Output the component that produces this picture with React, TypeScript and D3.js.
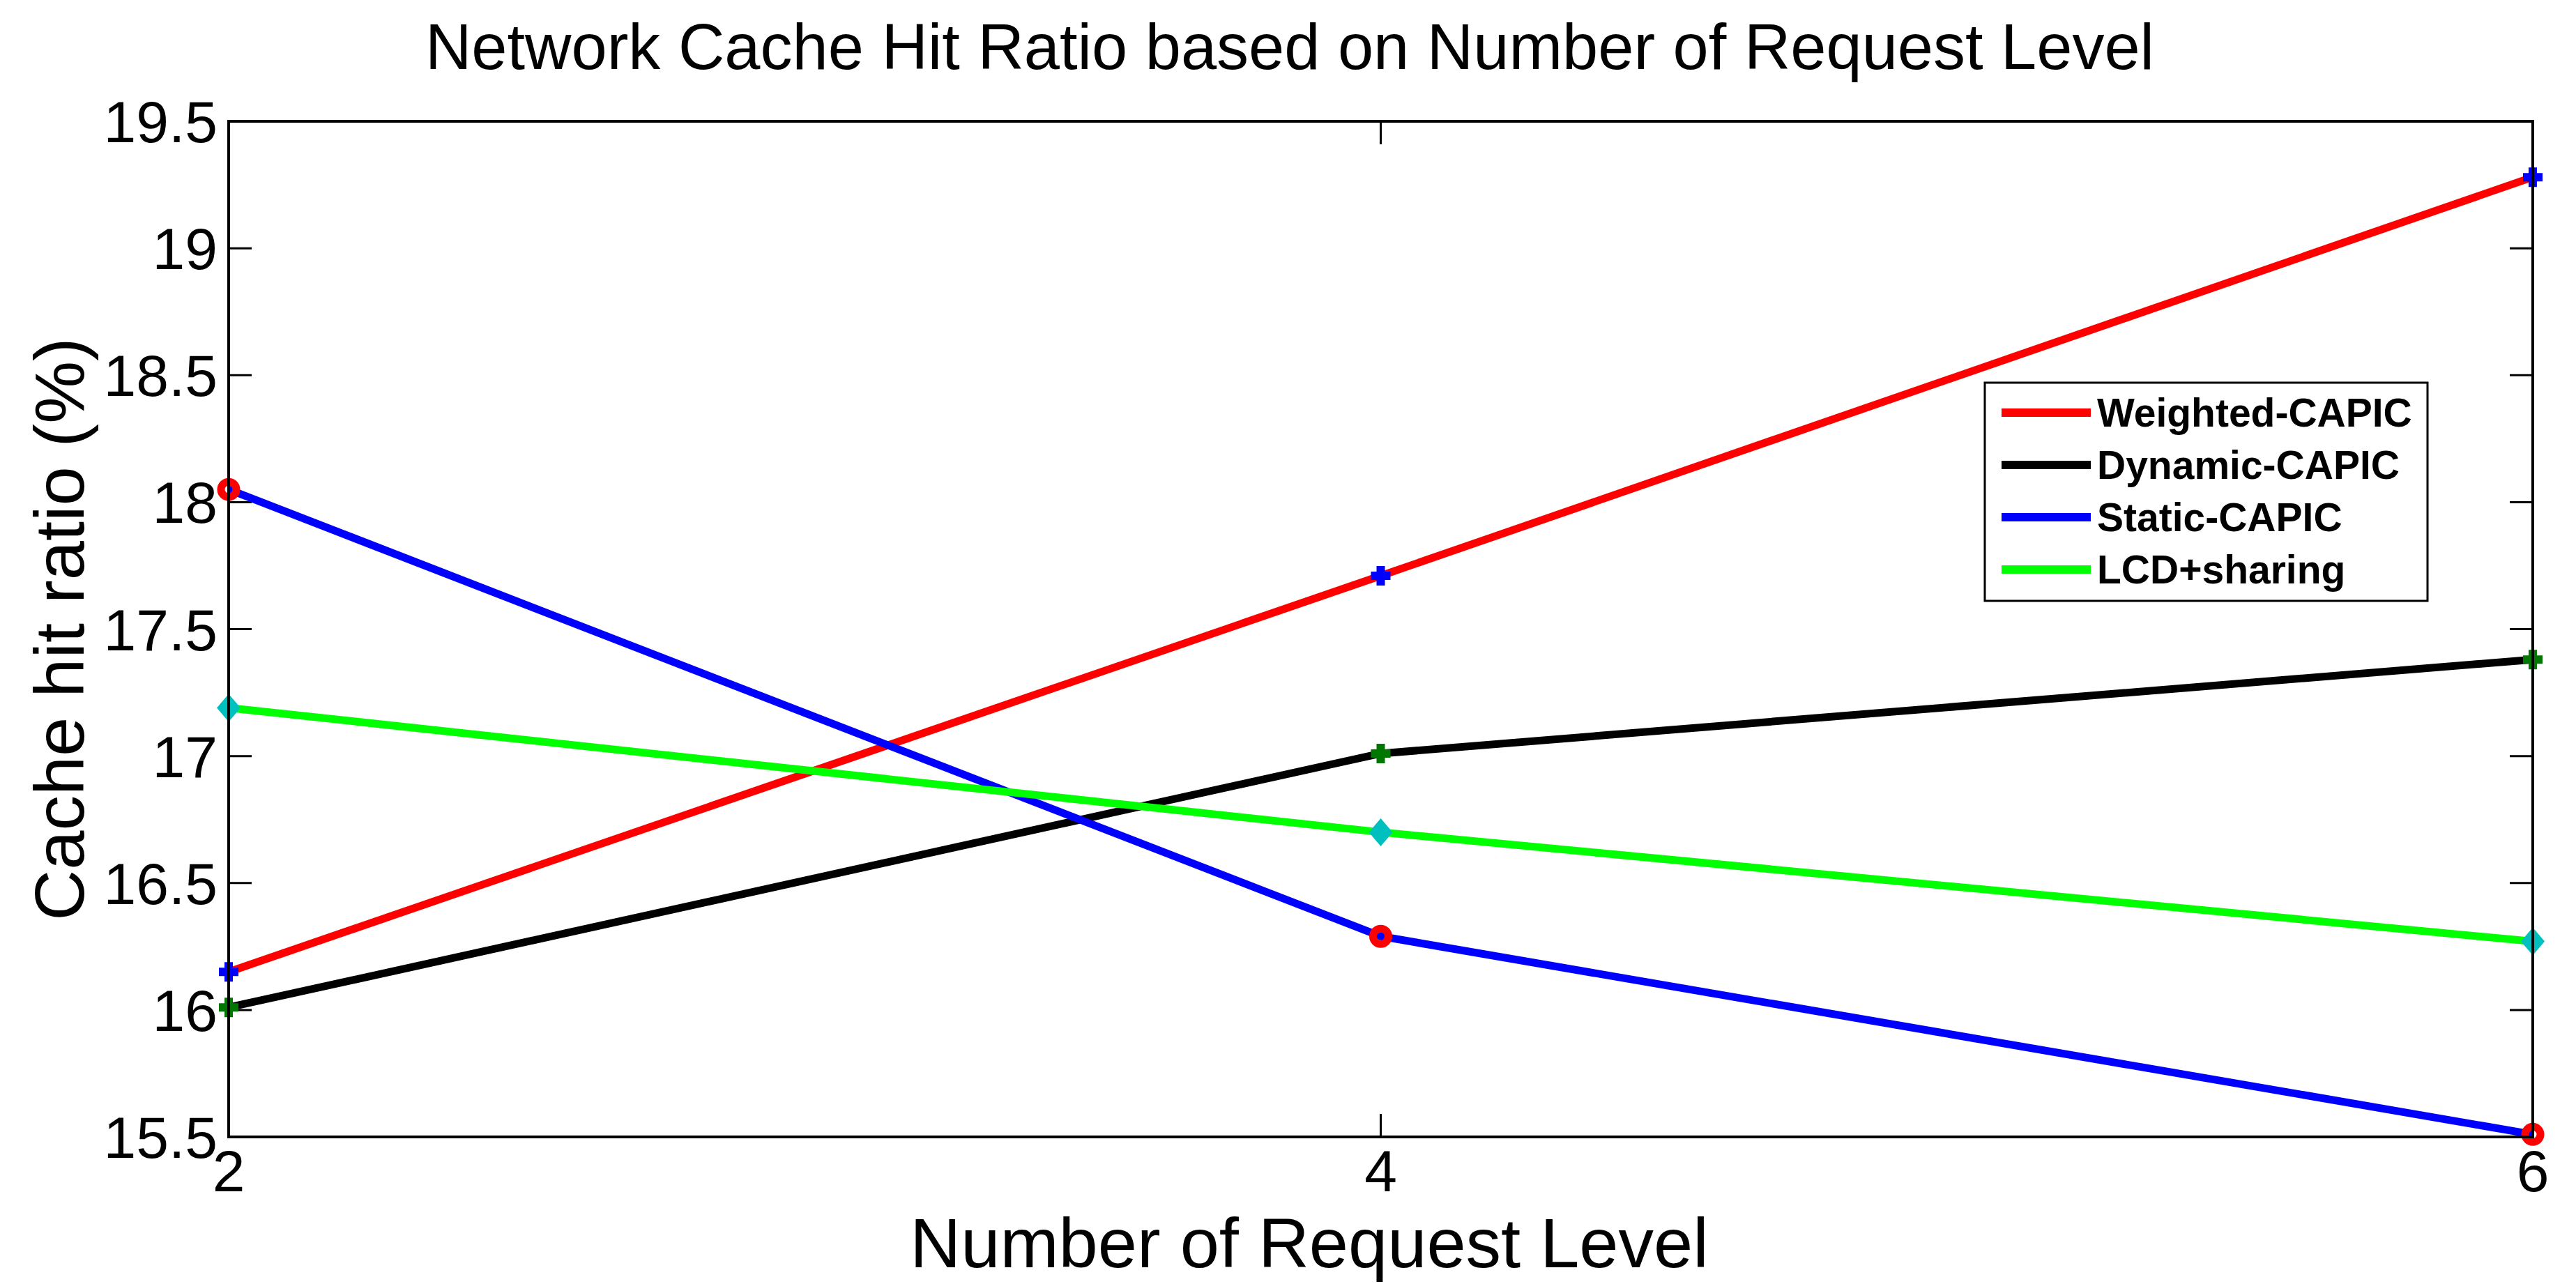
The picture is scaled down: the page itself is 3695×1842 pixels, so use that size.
import React from "react";
import * as d3 from "d3";

const xValues = [2, 4, 6];
const weighted = [16.15, 17.71, 19.28];
const dynamic = [16.01, 17.01, 17.38];
const staticCapic = [18.05, 16.29, 15.51];
const lcdSharing = [17.19, 16.7, 16.27];
const yTicks = [15.5, 16, 16.5, 17, 17.5, 18, 18.5, 19, 19.5];
const xTicks = [2, 4, 6];
const seriesNames = ["Weighted-CAPIC", "Dynamic-CAPIC", "Static-CAPIC", "LCD+sharing"];

const W = 3695;
const H = 1842;
const M = { left: 328, right: 3633, top: 174, bottom: 1631 };

type Series = { name: string; values: number[]; color: string; marker: string; markerColor: string };

const series: Series[] = [
  { name: seriesNames[0], values: weighted, color: "#FF0000", marker: "plus", markerColor: "#0000FF" },
  { name: seriesNames[1], values: dynamic, color: "#000000", marker: "plus", markerColor: "#007700" },
  { name: seriesNames[2], values: staticCapic, color: "#0000FF", marker: "circle", markerColor: "#FF0000" },
  { name: seriesNames[3], values: lcdSharing, color: "#00FF00", marker: "diamond", markerColor: "#00BFBF" },
];

function plusPath(cx: number, cy: number, half: number, arm: number) {
  const a = arm / 2;
  const p = d3.path();
  p.moveTo(cx - a, cy - half);
  p.lineTo(cx + a, cy - half);
  p.lineTo(cx + a, cy - a);
  p.lineTo(cx + half, cy - a);
  p.lineTo(cx + half, cy + a);
  p.lineTo(cx + a, cy + a);
  p.lineTo(cx + a, cy + half);
  p.lineTo(cx - a, cy + half);
  p.lineTo(cx - a, cy + a);
  p.lineTo(cx - half, cy + a);
  p.lineTo(cx - half, cy - a);
  p.lineTo(cx - a, cy - a);
  p.closePath();
  return p.toString();
}

function diamondPath(cx: number, cy: number, hw: number, hh: number) {
  const p = d3.path();
  p.moveTo(cx, cy - hh);
  p.lineTo(cx + hw, cy);
  p.lineTo(cx, cy + hh);
  p.lineTo(cx - hw, cy);
  p.closePath();
  return p.toString();
}

export default function App() {
  const x = d3.scaleLinear().domain([2, 6]).range([M.left, M.right]);
  const y = d3.scaleLinear().domain([15.5, 19.5]).range([M.bottom, M.top]);
  const line = d3
    .line<number>()
    .x((_, i) => x(xValues[i]))
    .y((d) => y(d));

  const font = "'Liberation Sans', Arial, sans-serif";
  const tickFont = 84;
  const labelFont = 101;
  const tickLen = 33;

  const legend = { x0: 2847, y0: 549, x1: 3482, y1: 862, row0: 592, rowGap: 75 };

  return (
    <svg
      width={W}
      height={H}
      style={{ position: "absolute", left: 0, top: 0, background: "#fff" }}
      fontFamily={font}
    >
      <rect x={0} y={0} width={W} height={H} fill="#fff" />
      {/* ticks */}
      {yTicks.map((t) => (
        <g key={"yt" + t}>
          <line x1={M.left} x2={M.left + tickLen} y1={y(t)} y2={y(t)} stroke="#000" strokeWidth={3} />
          <line x1={M.right} x2={M.right - tickLen} y1={y(t)} y2={y(t)} stroke="#000" strokeWidth={3} />
          <text x={M.left - 16} y={y(t) + 30} fontSize={tickFont} textAnchor="end" fill="#000">
            {String(t)}
          </text>
        </g>
      ))}
      {xTicks.map((t) => (
        <g key={"xt" + t}>
          <line x1={x(t)} x2={x(t)} y1={M.bottom} y2={M.bottom - tickLen} stroke="#000" strokeWidth={3} />
          <line x1={x(t)} x2={x(t)} y1={M.top} y2={M.top + tickLen} stroke="#000" strokeWidth={3} />
          <text x={x(t)} y={M.bottom + 78} fontSize={tickFont} textAnchor="middle" fill="#000">
            {String(t)}
          </text>
        </g>
      ))}
      {/* series lines and markers */}
      {series.map((s) => (
        <g key={s.name}>
          <path d={line(s.values) || ""} fill="none" stroke={s.color} strokeWidth={11} strokeLinejoin="miter" />
          {s.values.map((v, i) => {
            const cx = x(xValues[i]);
            const cy = y(v);
            if (s.marker === "plus")
              return <path key={i} d={plusPath(cx, cy, 14, 12)} fill={s.markerColor} />;
            if (s.marker === "circle")
              return <circle key={i} cx={cx} cy={cy} r={11} fill="none" stroke={s.markerColor} strokeWidth={11} />;
            return <path key={i} d={diamondPath(cx, cy, 17, 20)} fill={s.markerColor} />;
          })}
        </g>
      ))}
      {/* axes box */}
      <rect
        x={M.left}
        y={M.top}
        width={M.right - M.left}
        height={M.bottom - M.top}
        fill="none"
        stroke="#000"
        strokeWidth={4}
      />
      {/* legend */}
      <rect
        x={legend.x0}
        y={legend.y0}
        width={legend.x1 - legend.x0}
        height={legend.y1 - legend.y0}
        fill="#fff"
        stroke="#000"
        strokeWidth={3}
      />
      {series.map((s, i) => {
        const ry = legend.row0 + i * legend.rowGap;
        return (
          <g key={"lg" + s.name}>
            <line x1={2871} x2={2999} y1={ry} y2={ry} stroke={s.color} strokeWidth={12} />
            <text x={3008} y={ry + 20} fontSize={57} fontWeight="bold" fill="#000">
              {s.name}
            </text>
          </g>
        );
      })}
      {/* labels */}
      <text x={1850} y={99} fontSize={92} textAnchor="middle" fill="#000">
        Network Cache Hit Ratio based on Number of Request Level
      </text>
      <text x={1878} y={1818} fontSize={labelFont} textAnchor="middle" fill="#000">
        Number of Request Level
      </text>
      <text
        transform={`translate(120, ${(M.top + M.bottom) / 2}) rotate(-90)`}
        fontSize={labelFont}
        textAnchor="middle"
        fill="#000"
      >
        Cache hit ratio (%)
      </text>
    </svg>
  );
}
